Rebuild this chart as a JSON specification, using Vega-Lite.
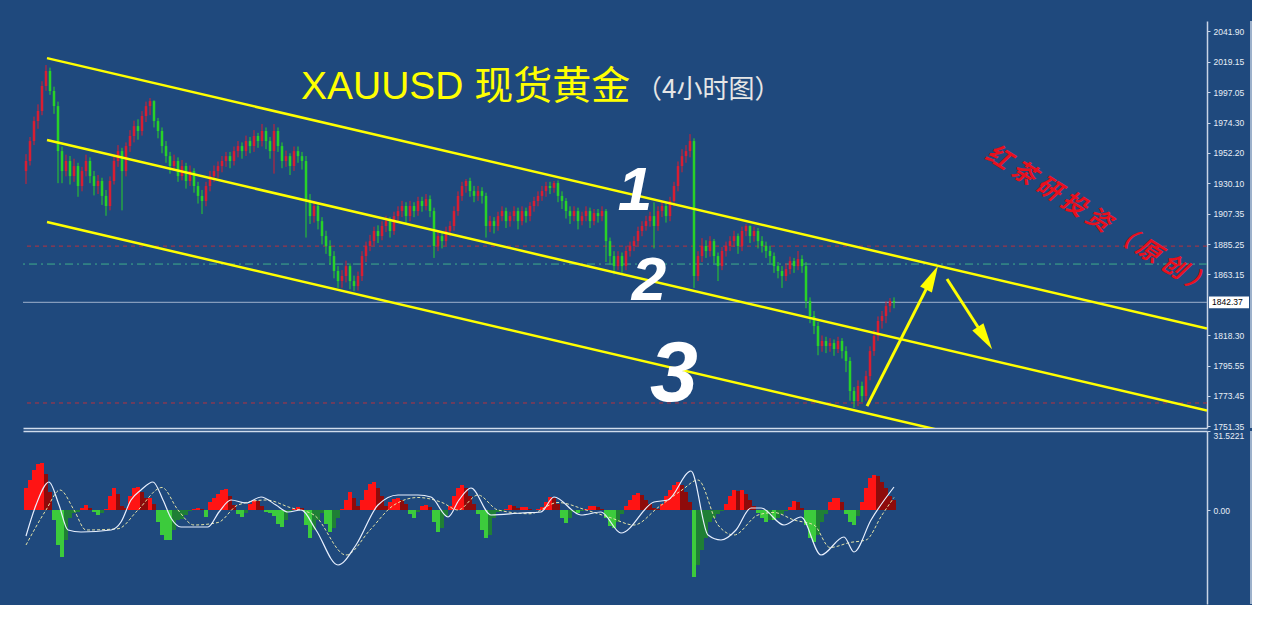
{
"$schema": "https://vega.github.io/schema/vega-lite/v6.json",
"background": "#1F497D",
"padding": {"left": 22, "top": 20, "right": 0, "bottom": 0},
"spacing": 3,
"bounds": "flush",
"config": {"view": {"stroke": null}, "axis": {"labelOverlap": false}},
"datasets": {
"candles": [
{"t":0,"o":1938.9,"h":1951.4,"l":1929.4,"c":1946.3},{"t":1,"o":1946.3,"h":1964,"l":1943,"c":1961.0},{"t":2,"o":1961.0,"h":1979,"l":1958,"c":1975.7},{"t":3,"o":1975.7,"h":1988,"l":1970,"c":1983.1},{"t":4,"o":1983.1,"h":2005,"l":1980,"c":2001.5},{"t":5,"o":2001.5,"h":2016.9,"l":1998,"c":2012.5},{"t":6,"o":2012.5,"h":2015,"l":1995,"c":1997.8},{"t":7,"o":1997.8,"h":2001,"l":1981,"c":1986.7},{"t":8,"o":1986.7,"h":1990,"l":1930,"c":1953.6},{"t":9,"o":1953.6,"h":1957,"l":1930,"c":1938.9},
{"t":10,"o":1938.9,"h":1951,"l":1935,"c":1946.3},{"t":11,"o":1946.3,"h":1950,"l":1929,"c":1935.2},{"t":12,"o":1935.2,"h":1948,"l":1931,"c":1942.6},{"t":13,"o":1942.6,"h":1945,"l":1920,"c":1927.9},{"t":14,"o":1927.9,"h":1942,"l":1924,"c":1938.9},{"t":15,"o":1938.9,"h":1951,"l":1935,"c":1946.3},{"t":16,"o":1946.3,"h":1949,"l":1930,"c":1935.2},{"t":17,"o":1935.2,"h":1939,"l":1921,"c":1927.9},{"t":18,"o":1927.9,"h":1936,"l":1922,"c":1931.6},{"t":19,"o":1931.6,"h":1934,"l":1914,"c":1920.6},
{"t":20,"o":1920.6,"h":1925,"l":1906,"c":1913.2},{"t":21,"o":1913.2,"h":1935,"l":1910,"c":1931.6},{"t":22,"o":1931.6,"h":1950,"l":1929,"c":1946.3},{"t":23,"o":1946.3,"h":1958,"l":1942,"c":1953.6},{"t":24,"o":1953.6,"h":1956,"l":1910,"c":1938.9},{"t":25,"o":1938.9,"h":1960,"l":1935,"c":1957.3},{"t":26,"o":1957.3,"h":1969,"l":1953,"c":1964.7},{"t":27,"o":1964.7,"h":1976,"l":1960,"c":1972.0},{"t":28,"o":1972.0,"h":1977,"l":1962,"c":1968.4},{"t":29,"o":1968.4,"h":1983,"l":1965,"c":1979.4},
{"t":30,"o":1979.4,"h":1990,"l":1975,"c":1986.7},{"t":31,"o":1986.7,"h":1992.6,"l":1980,"c":1990.4},{"t":32,"o":1990.4,"h":1991,"l":1971,"c":1975.7},{"t":33,"o":1975.7,"h":1978,"l":1963,"c":1968.4},{"t":34,"o":1968.4,"h":1971,"l":1952,"c":1957.3},{"t":35,"o":1957.3,"h":1961,"l":1945,"c":1949.9},{"t":36,"o":1949.9,"h":1953,"l":1937,"c":1942.6},{"t":37,"o":1942.6,"h":1951,"l":1939,"c":1946.3},{"t":38,"o":1946.3,"h":1949,"l":1931,"c":1935.2},{"t":39,"o":1935.2,"h":1947,"l":1932,"c":1942.6},
{"t":40,"o":1942.6,"h":1945,"l":1926,"c":1931.6},{"t":41,"o":1931.6,"h":1943,"l":1928,"c":1938.9},{"t":42,"o":1938.9,"h":1941,"l":1923,"c":1927.9},{"t":43,"o":1927.9,"h":1931,"l":1915,"c":1920.6},{"t":44,"o":1920.6,"h":1925,"l":1907.3,"c":1916.9},{"t":45,"o":1916.9,"h":1931,"l":1913,"c":1927.9},{"t":46,"o":1927.9,"h":1939,"l":1924,"c":1935.2},{"t":47,"o":1935.2,"h":1943,"l":1931,"c":1938.9},{"t":48,"o":1938.9,"h":1946,"l":1934,"c":1942.6},{"t":49,"o":1942.6,"h":1950,"l":1938,"c":1946.3},
{"t":50,"o":1946.3,"h":1953,"l":1942,"c":1949.9},{"t":51,"o":1949.9,"h":1953,"l":1941,"c":1946.3},{"t":52,"o":1946.3,"h":1957,"l":1943,"c":1953.6},{"t":53,"o":1953.6,"h":1961,"l":1949,"c":1957.3},{"t":54,"o":1957.3,"h":1960,"l":1948,"c":1953.6},{"t":55,"o":1953.6,"h":1965,"l":1950,"c":1961.0},{"t":56,"o":1961.0,"h":1964,"l":1952,"c":1957.3},{"t":57,"o":1957.3,"h":1969,"l":1953,"c":1964.7},{"t":58,"o":1964.7,"h":1967,"l":1956,"c":1961.0},{"t":59,"o":1961.0,"h":1973.5,"l":1957,"c":1968.4},
{"t":60,"o":1968.4,"h":1971,"l":1955,"c":1961.0},{"t":61,"o":1961.0,"h":1964,"l":1948,"c":1953.6},{"t":62,"o":1953.6,"h":1973.5,"l":1937,"c":1968.4},{"t":63,"o":1968.4,"h":1971,"l":1953,"c":1957.3},{"t":64,"o":1957.3,"h":1960,"l":1941,"c":1946.3},{"t":65,"o":1946.3,"h":1954,"l":1942,"c":1949.9},{"t":66,"o":1949.9,"h":1952,"l":1936,"c":1942.6},{"t":67,"o":1942.6,"h":1957,"l":1939,"c":1953.6},{"t":68,"o":1953.6,"h":1957,"l":1945,"c":1949.9},{"t":69,"o":1949.9,"h":1953,"l":1940,"c":1946.3},
{"t":70,"o":1946.3,"h":1950,"l":1890,"c":1916.9},{"t":71,"o":1916.9,"h":1922,"l":1900,"c":1905.8},{"t":72,"o":1905.8,"h":1917,"l":1901,"c":1913.2},{"t":73,"o":1913.2,"h":1916,"l":1896,"c":1902.1},{"t":74,"o":1902.1,"h":1905,"l":1885,"c":1891.1},{"t":75,"o":1891.1,"h":1895,"l":1878,"c":1883.8},{"t":76,"o":1883.8,"h":1888,"l":1870,"c":1876.4},{"t":77,"o":1876.4,"h":1880,"l":1860,"c":1865.4},{"t":78,"o":1865.4,"h":1869,"l":1853,"c":1858.0},{"t":79,"o":1858.0,"h":1866,"l":1853,"c":1861.7},
{"t":80,"o":1861.7,"h":1873,"l":1857,"c":1869.0},{"t":81,"o":1869.0,"h":1871,"l":1852,"c":1858.0},{"t":82,"o":1858.0,"h":1862,"l":1850.6,"c":1854.3},{"t":83,"o":1854.3,"h":1865,"l":1851,"c":1861.7},{"t":84,"o":1861.7,"h":1880,"l":1858,"c":1876.4},{"t":85,"o":1876.4,"h":1887,"l":1872,"c":1883.8},{"t":86,"o":1883.8,"h":1892,"l":1880,"c":1887.4},{"t":87,"o":1887.4,"h":1898,"l":1884,"c":1894.8},{"t":88,"o":1894.8,"h":1899,"l":1886,"c":1891.1},{"t":89,"o":1891.1,"h":1902,"l":1888,"c":1898.5},
{"t":90,"o":1898.5,"h":1906,"l":1894,"c":1902.1},{"t":91,"o":1902.1,"h":1905,"l":1890,"c":1894.8},{"t":92,"o":1894.8,"h":1909,"l":1892,"c":1905.8},{"t":93,"o":1905.8,"h":1913,"l":1901,"c":1909.5},{"t":94,"o":1909.5,"h":1917,"l":1905,"c":1913.2},{"t":95,"o":1913.2,"h":1916,"l":1900,"c":1905.8},{"t":96,"o":1905.8,"h":1917,"l":1902,"c":1913.2},{"t":97,"o":1913.2,"h":1916,"l":1905,"c":1909.5},{"t":98,"o":1909.5,"h":1920,"l":1906,"c":1916.9},{"t":99,"o":1916.9,"h":1920,"l":1909,"c":1913.2},
{"t":100,"o":1913.2,"h":1922,"l":1910,"c":1918.3},{"t":101,"o":1918.3,"h":1921,"l":1905,"c":1909.5},{"t":102,"o":1909.5,"h":1912,"l":1875,"c":1883.8},{"t":103,"o":1883.8,"h":1895,"l":1880,"c":1891.1},{"t":104,"o":1891.1,"h":1894,"l":1882,"c":1887.4},{"t":105,"o":1887.4,"h":1898,"l":1884,"c":1894.8},{"t":106,"o":1894.8,"h":1902,"l":1891,"c":1898.5},{"t":107,"o":1898.5,"h":1913,"l":1895,"c":1909.5},{"t":108,"o":1909.5,"h":1924,"l":1906,"c":1920.6},{"t":109,"o":1920.6,"h":1931,"l":1917,"c":1927.9},
{"t":110,"o":1927.9,"h":1933,"l":1923,"c":1931.6},{"t":111,"o":1931.6,"h":1934,"l":1920,"c":1924.2},{"t":112,"o":1924.2,"h":1928,"l":1916,"c":1920.6},{"t":113,"o":1920.6,"h":1928,"l":1917,"c":1924.2},{"t":114,"o":1924.2,"h":1927,"l":1915,"c":1920.6},{"t":115,"o":1920.6,"h":1923,"l":1890,"c":1898.5},{"t":116,"o":1898.5,"h":1906,"l":1894,"c":1902.1},{"t":117,"o":1902.1,"h":1905,"l":1893,"c":1898.5},{"t":118,"o":1898.5,"h":1909,"l":1895,"c":1905.8},{"t":119,"o":1905.8,"h":1913,"l":1902,"c":1909.5},
{"t":120,"o":1909.5,"h":1912,"l":1897,"c":1902.1},{"t":121,"o":1902.1,"h":1909,"l":1898,"c":1905.8},{"t":122,"o":1905.8,"h":1913,"l":1902,"c":1909.5},{"t":123,"o":1909.5,"h":1912,"l":1896,"c":1902.1},{"t":124,"o":1902.1,"h":1913,"l":1899,"c":1909.5},{"t":125,"o":1909.5,"h":1912,"l":1901,"c":1905.8},{"t":126,"o":1905.8,"h":1916,"l":1902,"c":1913.2},{"t":127,"o":1913.2,"h":1920,"l":1909,"c":1916.9},{"t":128,"o":1916.9,"h":1924,"l":1913,"c":1920.6},{"t":129,"o":1920.6,"h":1928,"l":1917,"c":1924.2},
{"t":130,"o":1924.2,"h":1931,"l":1920,"c":1927.9},{"t":131,"o":1927.9,"h":1931,"l":1922,"c":1926.5},{"t":132,"o":1926.5,"h":1931.6,"l":1923,"c":1930.1},{"t":133,"o":1930.1,"h":1932,"l":1916,"c":1920.6},{"t":134,"o":1920.6,"h":1924,"l":1911,"c":1916.9},{"t":135,"o":1916.9,"h":1919,"l":1904,"c":1909.5},{"t":136,"o":1909.5,"h":1913,"l":1900,"c":1905.8},{"t":137,"o":1905.8,"h":1913,"l":1902,"c":1909.5},{"t":138,"o":1909.5,"h":1912,"l":1896,"c":1902.1},{"t":139,"o":1902.1,"h":1909,"l":1899,"c":1905.8},
{"t":140,"o":1905.8,"h":1913,"l":1902,"c":1909.5},{"t":141,"o":1909.5,"h":1912,"l":1897,"c":1902.1},{"t":142,"o":1902.1,"h":1911,"l":1899,"c":1908.0},{"t":143,"o":1908.0,"h":1911,"l":1901,"c":1905.8},{"t":144,"o":1905.8,"h":1913,"l":1902,"c":1909.5},{"t":145,"o":1909.5,"h":1911,"l":1872,"c":1887.4},{"t":146,"o":1887.4,"h":1890,"l":1870,"c":1876.4},{"t":147,"o":1876.4,"h":1880,"l":1863,"c":1869.0},{"t":148,"o":1869.0,"h":1880,"l":1866,"c":1876.4},{"t":149,"o":1876.4,"h":1879,"l":1864,"c":1869.0},
{"t":150,"o":1869.0,"h":1884,"l":1866,"c":1880.1},{"t":151,"o":1880.1,"h":1887,"l":1876,"c":1883.8},{"t":152,"o":1883.8,"h":1891,"l":1880,"c":1887.4},{"t":153,"o":1887.4,"h":1898,"l":1884,"c":1894.8},{"t":154,"o":1894.8,"h":1902,"l":1891,"c":1898.5},{"t":155,"o":1898.5,"h":1906,"l":1895,"c":1902.1},{"t":156,"o":1902.1,"h":1909,"l":1898,"c":1905.8},{"t":157,"o":1905.8,"h":1916,"l":1882,"c":1898.5},{"t":158,"o":1898.5,"h":1913,"l":1895,"c":1909.5},{"t":159,"o":1909.5,"h":1917,"l":1905,"c":1913.2},
{"t":160,"o":1913.2,"h":1916,"l":1901,"c":1905.8},{"t":161,"o":1905.8,"h":1920,"l":1902,"c":1916.9},{"t":162,"o":1916.9,"h":1931,"l":1913,"c":1927.9},{"t":163,"o":1927.9,"h":1946,"l":1924,"c":1942.6},{"t":164,"o":1942.6,"h":1955,"l":1938,"c":1949.9},{"t":165,"o":1949.9,"h":1958,"l":1945,"c":1953.6},{"t":166,"o":1953.6,"h":1966.1,"l":1949,"c":1961.0},{"t":167,"o":1961.0,"h":1963,"l":1852.9,"c":1861.7},{"t":168,"o":1861.7,"h":1880,"l":1858,"c":1876.4},{"t":169,"o":1876.4,"h":1889.6,"l":1872,"c":1883.8},
{"t":170,"o":1883.8,"h":1888,"l":1875,"c":1880.1},{"t":171,"o":1880.1,"h":1891,"l":1876,"c":1887.4},{"t":172,"o":1887.4,"h":1889,"l":1871,"c":1876.4},{"t":173,"o":1876.4,"h":1879,"l":1858,"c":1869.0},{"t":174,"o":1869.0,"h":1883,"l":1866,"c":1880.1},{"t":175,"o":1880.1,"h":1887,"l":1876,"c":1883.8},{"t":176,"o":1883.8,"h":1891,"l":1880,"c":1887.4},{"t":177,"o":1887.4,"h":1895,"l":1883,"c":1891.1},{"t":178,"o":1891.1,"h":1893,"l":1878,"c":1883.8},{"t":179,"o":1883.8,"h":1898,"l":1880,"c":1894.8},
{"t":180,"o":1894.8,"h":1899.9,"l":1891,"c":1898.5},{"t":181,"o":1898.5,"h":1899,"l":1886,"c":1891.1},{"t":182,"o":1891.1,"h":1898,"l":1887,"c":1894.8},{"t":183,"o":1894.8,"h":1897,"l":1882,"c":1887.4},{"t":184,"o":1887.4,"h":1891,"l":1879,"c":1883.8},{"t":185,"o":1883.8,"h":1887,"l":1875,"c":1880.1},{"t":186,"o":1880.1,"h":1884,"l":1871,"c":1876.4},{"t":187,"o":1876.4,"h":1879,"l":1864,"c":1869.0},{"t":188,"o":1869.0,"h":1872,"l":1860,"c":1865.4},{"t":189,"o":1865.4,"h":1869,"l":1852.9,"c":1861.7},
{"t":190,"o":1861.7,"h":1871,"l":1858,"c":1866.8},{"t":191,"o":1866.8,"h":1876,"l":1863,"c":1872.7},{"t":192,"o":1872.7,"h":1875,"l":1864,"c":1869.0},{"t":193,"o":1869.0,"h":1880.1,"l":1866,"c":1874.2},{"t":194,"o":1874.2,"h":1877,"l":1864,"c":1869.0},{"t":195,"o":1869.0,"h":1872,"l":1838,"c":1843.3},{"t":196,"o":1843.3,"h":1846,"l":1827,"c":1832.3},{"t":197,"o":1832.3,"h":1836,"l":1819,"c":1824.9},{"t":198,"o":1824.9,"h":1828,"l":1803.4,"c":1810.2},{"t":199,"o":1810.2,"h":1818,"l":1806,"c":1813.9},
{"t":200,"o":1813.9,"h":1817,"l":1805,"c":1810.2},{"t":201,"o":1810.2,"h":1816,"l":1806,"c":1812.4},{"t":202,"o":1812.4,"h":1815,"l":1803,"c":1808.0},{"t":203,"o":1808.0,"h":1817,"l":1805,"c":1813.9},{"t":204,"o":1813.9,"h":1816,"l":1801,"c":1806.5},{"t":205,"o":1806.5,"h":1810,"l":1791,"c":1799.2},{"t":206,"o":1799.2,"h":1802,"l":1770,"c":1777.1},{"t":207,"o":1777.1,"h":1780,"l":1764.6,"c":1769.7},{"t":208,"o":1769.7,"h":1785,"l":1766,"c":1780.8},{"t":209,"o":1780.8,"h":1784,"l":1769,"c":1773.4},
{"t":210,"o":1773.4,"h":1792,"l":1770,"c":1788.1},{"t":211,"o":1788.1,"h":1810,"l":1785,"c":1806.5},{"t":212,"o":1806.5,"h":1822,"l":1803,"c":1817.6},{"t":213,"o":1817.6,"h":1832,"l":1814,"c":1828.6},{"t":214,"o":1828.6,"h":1836,"l":1823,"c":1832.3},{"t":215,"o":1832.3,"h":1843,"l":1827,"c":1839.6},{"t":216,"o":1839.6,"h":1845.5,"l":1835,"c":1843.3},{"t":217,"o":1843.3,"h":1846,"l":1838,"c":1842.37}
],
"hist": [
{"t":0,"v":8.8},{"t":1,"v":12},{"t":2,"v":16},{"t":3,"v":18.4},{"t":4,"v":18.8},{"t":5,"v":14.4},{"t":6,"v":7.2},{"t":7,"v":-4},{"t":8,"v":-14},{"t":9,"v":-18.8},
{"t":10,"v":-12},{"t":11,"v":-3.2},{"t":12,"v":-1.2},{"t":13,"v":-0.8},{"t":14,"v":0.8},{"t":15,"v":2},{"t":16,"v":0.8},{"t":17,"v":-0.8},{"t":18,"v":-2},{"t":19,"v":-1.2},
{"t":20,"v":0.4},{"t":21,"v":5.6},{"t":22,"v":8.8},{"t":23,"v":6.4},{"t":24,"v":1.6},{"t":25,"v":0.8},{"t":26,"v":5.6},{"t":27,"v":8.8},{"t":28,"v":9.2},{"t":29,"v":7.2},
{"t":30,"v":4.8},{"t":31,"v":4.8},{"t":32,"v":2.4},{"t":33,"v":-4.8},{"t":34,"v":-10},{"t":35,"v":-12},{"t":36,"v":-12},{"t":37,"v":-8},{"t":38,"v":-4},{"t":39,"v":-3.6},
{"t":40,"v":-2},{"t":41,"v":-0.4},{"t":42,"v":0.4},{"t":43,"v":0.8},{"t":44,"v":0.4},{"t":45,"v":-2.8},{"t":46,"v":3.2},{"t":47,"v":4.8},{"t":48,"v":6.4},{"t":49,"v":8},
{"t":50,"v":8.4},{"t":51,"v":5.6},{"t":52,"v":2},{"t":53,"v":-1.6},{"t":54,"v":-2.8},{"t":55,"v":-1.2},{"t":56,"v":2.4},{"t":57,"v":4},{"t":58,"v":3.6},{"t":59,"v":1.6},
{"t":60,"v":-0.8},{"t":61,"v":-1.2},{"t":62,"v":-2.4},{"t":63,"v":-5.6},{"t":64,"v":-6.8},{"t":65,"v":-4},{"t":66,"v":-0.8},{"t":67,"v":0.4},{"t":68,"v":1.2},{"t":69,"v":0.8},
{"t":70,"v":-6},{"t":71,"v":-11.2},{"t":72,"v":-8},{"t":73,"v":-4},{"t":74,"v":-1.2},{"t":75,"v":-5.6},{"t":76,"v":-8.8},{"t":77,"v":-7.2},{"t":78,"v":-3.2},{"t":79,"v":0.4},
{"t":80,"v":4},{"t":81,"v":7.2},{"t":82,"v":4.8},{"t":83,"v":1.6},{"t":84,"v":4},{"t":85,"v":8},{"t":86,"v":10.4},{"t":87,"v":11.2},{"t":88,"v":8.8},{"t":89,"v":5.6},
{"t":90,"v":1.6},{"t":91,"v":3.2},{"t":92,"v":4.4},{"t":93,"v":4.8},{"t":94,"v":4},{"t":95,"v":2.4},{"t":96,"v":-1.6},{"t":97,"v":-3.2},{"t":98,"v":-0.8},{"t":99,"v":1.6},
{"t":100,"v":2},{"t":101,"v":1.2},{"t":102,"v":-4.8},{"t":103,"v":-8.8},{"t":104,"v":-7.2},{"t":105,"v":-2.4},{"t":106,"v":1.6},{"t":107,"v":5.6},{"t":108,"v":8.8},{"t":109,"v":10},
{"t":110,"v":8.8},{"t":111,"v":5.6},{"t":112,"v":2.4},{"t":113,"v":-1.6},{"t":114,"v":-8},{"t":115,"v":-11.2},{"t":116,"v":-10},{"t":117,"v":-3.2},{"t":118,"v":-0.8},{"t":119,"v":-0.4},
{"t":120,"v":0.4},{"t":121,"v":2},{"t":122,"v":1.6},{"t":123,"v":0.8},{"t":124,"v":1.2},{"t":125,"v":1.2},{"t":126,"v":0.4},{"t":127,"v":0},{"t":128,"v":0.4},{"t":129,"v":1.2},
{"t":130,"v":3.2},{"t":131,"v":5.2},{"t":132,"v":4.8},{"t":133,"v":2.4},{"t":134,"v":-3.2},{"t":135,"v":-5.2},{"t":136,"v":-3.2},{"t":137,"v":-0.8},{"t":138,"v":-1.2},{"t":139,"v":-0.4},
{"t":140,"v":0.4},{"t":141,"v":1.6},{"t":142,"v":1.6},{"t":143,"v":1.2},{"t":144,"v":0.4},{"t":145,"v":-3.2},{"t":146,"v":-6.4},{"t":147,"v":-7.2},{"t":148,"v":-4.8},{"t":149,"v":-1.6},
{"t":150,"v":1.6},{"t":151,"v":4},{"t":152,"v":6},{"t":153,"v":6.8},{"t":154,"v":6},{"t":155,"v":4},{"t":156,"v":2.4},{"t":157,"v":0.8},{"t":158,"v":0.4},{"t":159,"v":2.4},
{"t":160,"v":5.6},{"t":161,"v":8},{"t":162,"v":10},{"t":163,"v":11.2},{"t":164,"v":10},{"t":165,"v":7.2},{"t":166,"v":3.2},{"t":167,"v":-26.8},{"t":168,"v":-22},{"t":169,"v":-16},
{"t":170,"v":-11.2},{"t":171,"v":-4.8},{"t":172,"v":-3.2},{"t":173,"v":-1.6},{"t":174,"v":-0.4},{"t":175,"v":2.4},{"t":176,"v":5.6},{"t":177,"v":8},{"t":178,"v":7.6},{"t":179,"v":8},
{"t":180,"v":6.4},{"t":181,"v":4},{"t":182,"v":1.6},{"t":183,"v":-1.2},{"t":184,"v":-3.2},{"t":185,"v":-4.8},{"t":186,"v":-4},{"t":187,"v":-4},{"t":188,"v":-3.2},{"t":189,"v":-1.6},
{"t":190,"v":-0.4},{"t":191,"v":1.2},{"t":192,"v":3.6},{"t":193,"v":3.2},{"t":194,"v":0.8},{"t":195,"v":-6},{"t":196,"v":-11.2},{"t":197,"v":-12.8},{"t":198,"v":-10},{"t":199,"v":-4.8},
{"t":200,"v":-1.6},{"t":201,"v":3.2},{"t":202,"v":4.8},{"t":203,"v":4.8},{"t":204,"v":3.2},{"t":205,"v":-1.6},{"t":206,"v":-4.8},{"t":207,"v":-6},{"t":208,"v":-2.4},{"t":209,"v":3.2},
{"t":210,"v":8.8},{"t":211,"v":12.8},{"t":212,"v":14},{"t":213,"v":13.6},{"t":214,"v":11.2},{"t":215,"v":8.8},{"t":216,"v":5.6},{"t":217,"v":4}
],
"osc": [
{"s":"macd","t":0,"v":-10.4},{"s":"macd","t":2.5,"v":2},{"s":"macd","t":5.75,"v":11.2},{"s":"macd","t":8.25,"v":2},{"s":"macd","t":10.5,"v":-8},{"s":"macd","t":13.75,"v":-8.8},{"s":"macd","t":21.25,"v":-8},{"s":"macd","t":23.75,"v":-4.8},{"s":"macd","t":26.25,"v":4},{"s":"macd","t":28.75,"v":8},{"s":"macd","t":31.75,"v":11.2},{"s":"macd","t":34.25,"v":4},{"s":"macd","t":36.25,"v":-3.2},{"s":"macd","t":38.75,"v":-6.8},{"s":"macd","t":45.5,"v":-6.8},{"s":"macd","t":48.25,"v":-0.8},{"s":"macd","t":51.25,"v":4},{"s":"macd","t":55,"v":2.8},{"s":"macd","t":58.75,"v":5.2},{"s":"macd","t":62.5,"v":2},{"s":"macd","t":65.5,"v":-0.8},{"s":"macd","t":68.75,"v":0},{"s":"macd","t":72.5,"v":-8},{"s":"macd","t":78,"v":-22},{"s":"macd","t":82.5,"v":-14},{"s":"macd","t":88,"v":2},{"s":"macd","t":93,"v":6},{"s":"macd","t":98,"v":6},{"s":"macd","t":101.25,"v":5.2},{"s":"macd","t":105.5,"v":-2.8},{"s":"macd","t":108.25,"v":4},{"s":"macd","t":111.25,"v":8.8},{"s":"macd","t":116.25,"v":-2},{"s":"macd","t":123.75,"v":-1.2},{"s":"macd","t":128.75,"v":-0.8},{"s":"macd","t":132,"v":5.2},{"s":"macd","t":138.75,"v":-2},{"s":"macd","t":143.75,"v":-0.8},{"s":"macd","t":148.75,"v":-9.2},{"s":"macd","t":157,"v":3.2},{"s":"macd","t":160.5,"v":4},{"s":"macd","t":166.25,"v":15.6},{"s":"macd","t":170.5,"v":-10},{"s":"macd","t":173.75,"v":-12},{"s":"macd","t":177.5,"v":-8},{"s":"macd","t":181.25,"v":0.8},{"s":"macd","t":183.75,"v":0.8},{"s":"macd","t":189.5,"v":-6},{"s":"macd","t":193.75,"v":-2.8},{"s":"macd","t":198.75,"v":-18},{"s":"macd","t":204.5,"v":-10.8},{"s":"macd","t":207,"v":-16.8},{"s":"macd","t":211.25,"v":-4},{"s":"macd","t":217,"v":9.2},
{"s":"sig","t":0,"v":-14},{"s":"sig","t":5,"v":0},{"s":"sig","t":8.5,"v":8},{"s":"sig","t":12,"v":0},{"s":"sig","t":15,"v":-8},{"s":"sig","t":23,"v":-7.5},{"s":"sig","t":28,"v":0},{"s":"sig","t":34,"v":9},{"s":"sig","t":38,"v":0},{"s":"sig","t":42,"v":-6},{"s":"sig","t":48,"v":-5},{"s":"sig","t":53,"v":2},{"s":"sig","t":60,"v":4},{"s":"sig","t":66,"v":1},{"s":"sig","t":72,"v":-2},{"s":"sig","t":80,"v":-18},{"s":"sig","t":86,"v":-8},{"s":"sig","t":92,"v":2},{"s":"sig","t":98,"v":5},{"s":"sig","t":104,"v":3},{"s":"sig","t":108,"v":0},{"s":"sig","t":113,"v":6},{"s":"sig","t":118,"v":0},{"s":"sig","t":126,"v":-1.5},{"s":"sig","t":133,"v":3},{"s":"sig","t":140,"v":0},{"s":"sig","t":146,"v":-3},{"s":"sig","t":152,"v":-6},{"s":"sig","t":158,"v":1},{"s":"sig","t":164,"v":8},{"s":"sig","t":168,"v":12},{"s":"sig","t":173,"v":-6},{"s":"sig","t":177,"v":-10},{"s":"sig","t":183,"v":-2},{"s":"sig","t":187,"v":-1},{"s":"sig","t":192,"v":-4},{"s":"sig","t":197,"v":-6},{"s":"sig","t":201,"v":-15},{"s":"sig","t":206,"v":-13},{"s":"sig","t":210,"v":-12},{"s":"sig","t":214,"v":-2},{"s":"sig","t":217,"v":5}
],
"channel": [
{"line":"u","t":5.25,"p":2022.0},{"line":"u","t":295.25,"p":1823.1},
{"line":"m","t":5.25,"p":1961.7},{"line":"m","t":295.25,"p":1762.7},
{"line":"l","t":5.25,"p":1901.4},{"line":"l","t":295.25,"p":1702.4}
],
"levels": [
{"k":"red","p":1883.7},{"k":"green","p":1870.5},{"k":"cur","p":1842.37},{"k":"red","p":1768.3}
],
"arrows": [
{"a":1,"t":210.25,"p":1766.0},{"a":1,"t":226.5,"p":1860.5},
{"a":2,"t":230.25,"p":1859.5},{"a":2,"t":239.75,"p":1816.1}
],
"heads": [
{"a":1,"t":226.5,"p":1860.5},{"a":2,"t":239.75,"p":1816.1}
],
"labels": [
{"k":"title","text":"XAUUSD 现货黄金","t":68.75,"p":1991.9},
{"k":"sub","text":"（4小时图）","t":152.5,"p":1992.6},
{"k":"n1","text":"1","t":152.25,"p":1924.2},
{"k":"n2","text":"2","t":155.75,"p":1858.0},
{"k":"n3","text":"3","t":162,"p":1788.9},
{"k":"wm","text":"红 茶 研 投 资 （ 原 创 ）","t":268,"p":1902.6},
{"k":"cur","text":"1842.37","t":296.5,"p":1842.37}
],
"curbox": [
{"t1":295.75,"t2":305.75,"p1":1838.0,"p2":1846.7}
],
"frame": [
{"t":306.25}
]
},
"vconcat": [
{
"width": 1184,
"height": 407,
"layer": [
{"data":{"name":"levels"},"transform":[{"filter":"datum.k=='red'"}],
 "mark":{"type":"rule","color":"#B8323E","strokeDash":[4,4],"strokeWidth":1},
 "encoding":{"y":{"field":"p","type":"quantitative","title":null,"scale":{"domain":[1749.9,2049.3],"nice":false,"zero":false},
   "axis":{"orient":"right","title":null,"grid":false,"values":[2041.9,2019.15,1997.05,1974.3,1952.2,1930.1,1907.35,1885.25,1863.15,1818.3,1795.55,1773.45,1751.35],"tickCount":30,"format":".2f","domainColor":"#C8D4E6","domainWidth":1.5,"tickColor":"#C8D4E6","tickSize":3,"labelColor":"#E8EEF6","labelFont":"Liberation Sans","labelFontSize":8.5,"labelPadding":3,"labelFlush":false,"labelOverlap":false}}}},
{"data":{"name":"levels"},"transform":[{"filter":"datum.k=='green'"}],
 "mark":{"type":"rule","color":"#3FAE8A","strokeDash":[8,4,2,4],"strokeWidth":1},
 "encoding":{"y":{"field":"p","type":"quantitative","title":null}}},
{"data":{"name":"levels"},"transform":[{"filter":"datum.k=='cur'"}],
 "mark":{"type":"rule","color":"#9FB2CC","strokeWidth":1},
 "encoding":{"y":{"field":"p","type":"quantitative","title":null}}},
{"data":{"name":"candles"},
 "mark":{"type":"rule","strokeWidth":1},
 "encoding":{
  "x":{"field":"t","type":"quantitative","title":null,"scale":{"domain":[-0.75,295.25],"nice":false,"zero":false},
   "axis":{"orient":"bottom","title":null,"grid":false,"labels":false,"ticks":false,"domainColor":"#D0DCEC","domainWidth":1.5}},
  "y":{"field":"l","type":"quantitative","title":null},
  "y2":{"field":"h"},
  "color":{"condition":{"test":"datum.c >= datum.o","value":"#D81E32"},"value":"#28D228"}}},
{"data":{"name":"candles"},
 "mark":{"type":"rule","strokeWidth":2.5},
 "encoding":{
  "x":{"field":"t","type":"quantitative","title":null},
  "y":{"field":"o","type":"quantitative","title":null},
  "y2":{"field":"c"},
  "color":{"condition":{"test":"datum.c >= datum.o","value":"#D81E32"},"value":"#28D228"}}},
{"data":{"name":"channel"},
 "mark":{"type":"line","color":"#FFFF00","strokeWidth":2.5,"clip":true},
 "encoding":{"x":{"field":"t","type":"quantitative","title":null},"y":{"field":"p","type":"quantitative","title":null},"detail":{"field":"line"}}},
{"data":{"name":"arrows"},
 "mark":{"type":"line","color":"#FFFF00","strokeWidth":3},
 "encoding":{"x":{"field":"t","type":"quantitative","title":null},"y":{"field":"p","type":"quantitative","title":null},"detail":{"field":"a"}}},
{"data":{"name":"heads"},"transform":[{"filter":"datum.a==1"}],
 "mark":{"type":"point","shape":"M0,-1L0.5,1L-0.5,1Z","filled":true,"color":"#FFFF00","opacity":1,"size":700,"angle":27},
 "encoding":{"x":{"field":"t","type":"quantitative","title":null},"y":{"field":"p","type":"quantitative","title":null}}},
{"data":{"name":"heads"},"transform":[{"filter":"datum.a==2"}],
 "mark":{"type":"point","shape":"M0,-1L0.5,1L-0.5,1Z","filled":true,"color":"#FFFF00","opacity":1,"size":700,"angle":147.5},
 "encoding":{"x":{"field":"t","type":"quantitative","title":null},"y":{"field":"p","type":"quantitative","title":null}}},
{"data":{"name":"labels"},"transform":[{"filter":"datum.k=='title'"}],
 "mark":{"type":"text","font":"Liberation Sans, Noto Sans CJK SC","fontSize":39,"color":"#FFFF00","align":"left","baseline":"alphabetic"},
 "encoding":{"x":{"field":"t","type":"quantitative","title":null},"y":{"field":"p","type":"quantitative","title":null},"text":{"field":"text"}}},
{"data":{"name":"labels"},"transform":[{"filter":"datum.k=='sub'"}],
 "mark":{"type":"text","font":"Noto Sans CJK SC","fontSize":26,"color":"#E6E6E6","align":"left","baseline":"alphabetic"},
 "encoding":{"x":{"field":"t","type":"quantitative","title":null},"y":{"field":"p","type":"quantitative","title":null},"text":{"field":"text"}}},
{"data":{"name":"labels"},"transform":[{"filter":"datum.k=='n1' || datum.k=='n2'"}],
 "mark":{"type":"text","font":"Liberation Sans","fontSize":62,"fontWeight":"bold","fontStyle":"italic","color":"#FFFFFF","align":"center","baseline":"middle"},
 "encoding":{"x":{"field":"t","type":"quantitative","title":null},"y":{"field":"p","type":"quantitative","title":null},"text":{"field":"text"}}},
{"data":{"name":"labels"},"transform":[{"filter":"datum.k=='n3'"}],
 "mark":{"type":"text","font":"Liberation Sans","fontSize":86,"fontWeight":"bold","fontStyle":"italic","color":"#FFFFFF","align":"center","baseline":"middle"},
 "encoding":{"x":{"field":"t","type":"quantitative","title":null},"y":{"field":"p","type":"quantitative","title":null},"text":{"field":"text"}}},
{"data":{"name":"labels"},"transform":[{"filter":"datum.k=='wm'"}],
 "mark":{"type":"text","font":"Noto Sans CJK SC","fontSize":24,"fontWeight":"bold","fontStyle":"italic","color":"#E8101E","align":"center","baseline":"middle","angle":32,"clip":false},
 "encoding":{"x":{"field":"t","type":"quantitative","title":null},"y":{"field":"p","type":"quantitative","title":null},"text":{"field":"text"}}},
{"data":{"name":"curbox"},
 "mark":{"type":"rect","color":"#FFFFFF"},
 "encoding":{"x":{"field":"t1","type":"quantitative","title":null},"x2":{"field":"t2"},"y":{"field":"p1","type":"quantitative","title":null},"y2":{"field":"p2"}}},
{"data":{"name":"labels"},"transform":[{"filter":"datum.k=='cur'"}],
 "mark":{"type":"text","font":"Liberation Sans","fontSize":8.5,"color":"#000000","align":"left","baseline":"middle"},
 "encoding":{"x":{"field":"t","type":"quantitative","title":null},"y":{"field":"p","type":"quantitative","title":null},"text":{"field":"text"}}},
{"data":{"name":"frame"},
 "mark":{"type":"rule","color":"#C8D4E6","strokeWidth":1.5},
 "encoding":{"x":{"field":"t","type":"quantitative","title":null}}}
]
},
{
"width": 1184,
"height": 173,
"layer": [
{"data":{"name":"hist"},
 "transform":[{"window":[{"op":"lag","field":"v","as":"pv"}],"sort":[{"field":"t","order":"ascending"}]}],
 "mark":{"type":"rule","strokeWidth":4},
 "encoding":{
  "x":{"field":"t","type":"quantitative","title":null,"scale":{"domain":[-0.75,295.25],"nice":false,"zero":false},
   "axis":{"orient":"top","title":null,"grid":false,"labels":false,"ticks":false,"domainColor":"#D0DCEC","domainWidth":1.5}},
  "y":{"field":"v","type":"quantitative","title":null,"scale":{"domain":[-37.6,31.6],"nice":false,"zero":false},
   "axis":{"orient":"right","title":null,"grid":false,"values":[31.5221,0],"tickCount":30,"labelExpr":"datum.value == 0 ? '0.00' : '31.5221'","domainColor":"#C8D4E6","domainWidth":1.5,"tickColor":"#C8D4E6","tickSize":3,"labelColor":"#E8EEF6","labelFont":"Liberation Sans","labelFontSize":8.5,"labelPadding":3,"labelFlush":true,"labelOverlap":false}},
  "y2":{"datum":0},
  "color":{"condition":[{"test":"datum.v >= 0 && datum.v >= datum.pv","value":"#FF1414"},{"test":"datum.v >= 0","value":"#8E0B0B"},{"test":"datum.v <= datum.pv","value":"#3CCB3C"}],"value":"#1F7F35"}}},
{"data":{"name":"osc"},"transform":[{"filter":"datum.s=='sig'"}],
 "mark":{"type":"line","color":"#E4E4A8","strokeWidth":1,"strokeDash":[3,2],"interpolate":"monotone"},
 "encoding":{"x":{"field":"t","type":"quantitative","title":null},"y":{"field":"v","type":"quantitative","title":null}}},
{"data":{"name":"osc"},"transform":[{"filter":"datum.s=='macd'"}],
 "mark":{"type":"line","color":"#E8F0FF","strokeWidth":1.2,"interpolate":"monotone"},
 "encoding":{"x":{"field":"t","type":"quantitative","title":null},"y":{"field":"v","type":"quantitative","title":null}}},
{"data":{"name":"frame"},
 "mark":{"type":"rule","color":"#C8D4E6","strokeWidth":1.5},
 "encoding":{"x":{"field":"t","type":"quantitative","title":null}}}
]
}
]
}
